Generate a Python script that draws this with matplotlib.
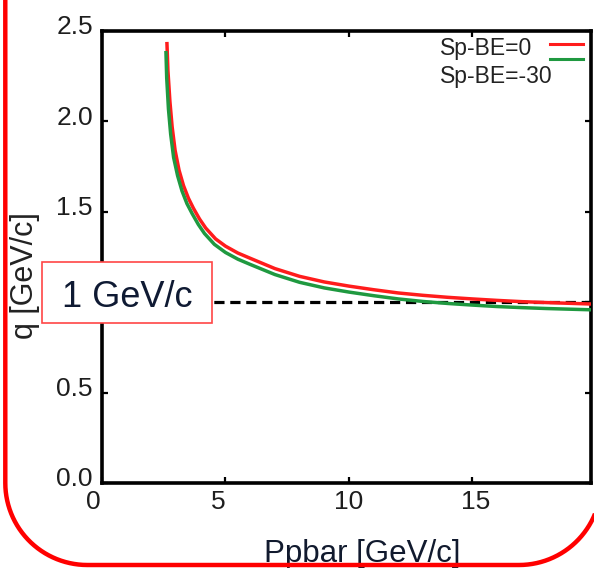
import numpy as np
import matplotlib
matplotlib.use("Agg")
import matplotlib.pyplot as plt
from matplotlib.patches import Rectangle, PathPatch
from matplotlib.path import Path
from matplotlib.lines import Line2D
from matplotlib.transforms import ScaledTranslation

# ---------------- data ----------------
x_red = [2.63, 2.67, 2.75, 2.84, 2.96, 3.12, 3.30, 3.50, 3.70, 3.95, 4.20, 4.60,
         5.00, 5.50, 6.00, 7.00, 8.00, 9.00, 10.0, 11.0, 12.0, 13.0, 14.0, 15.0,
         16.0, 17.0, 18.0, 19.8]
y_red = [2.43, 2.28, 2.11, 1.97, 1.84, 1.73, 1.645, 1.575, 1.52, 1.46, 1.41, 1.35,
         1.31, 1.272, 1.243, 1.186, 1.143, 1.112, 1.089, 1.069, 1.051, 1.038, 1.027, 1.018,
         1.010, 1.003, 0.998, 0.99]
x_green = [2.59, 2.62, 2.69, 2.78, 2.90, 3.06, 3.24, 3.44, 3.65, 3.90, 4.15, 4.55,
           5.00, 5.50, 6.00, 7.00, 8.00, 9.00, 10.0, 11.0, 12.0, 13.0, 14.0, 15.0,
           16.0, 17.0, 18.0, 19.8]
y_green = [2.38, 2.24, 2.07, 1.93, 1.80, 1.70, 1.615, 1.545, 1.49, 1.43, 1.38, 1.32,
           1.275, 1.238, 1.209, 1.153, 1.110, 1.079, 1.056, 1.036, 1.018, 1.004, 0.993, 0.984,
           0.976, 0.970, 0.965, 0.958]
series_labels = ["Sp-BE=0", "Sp-BE=-30"]
ref_level = 1.0
ref_label = "1 GeV/c"
x_ticks = [0, 5, 10, 15]
x_tick_labels = ["0", "5", "10", "15"]
y_ticks = [0.0, 0.5, 1.0, 1.5, 2.0, 2.5]
y_tick_labels = ["0.0", "0.5", "", "1.5", "2.0", "2.5"]   # "1.0" is hidden by the box
x_title = "Ppbar [GeV/c]"
y_title = "q [GeV/c]"

# ---------------- figure ----------------
plt.rcParams["font.family"] = ["Liberation Sans", "DejaVu Sans"]
W, H = 594, 568
fig = plt.figure(figsize=(W / 100, H / 100), dpi=100)
fig.patch.set_facecolor("white")

def fx(px):
    return px / W

def fy(py):
    return 1 - py / H

ax = fig.add_axes([fx(102), fy(483), (591 - 102) / W, (483 - 31) / H])

RED = "#ff1c1c"
GREEN = "#1f9940"

ax.axhline(ref_level, color="black", lw=2.3, dashes=(3.2, 1.8), zorder=2)
ax.plot(x_red, y_red, color=RED, lw=2.5, zorder=3)
ax.plot(x_green, y_green, color=GREEN, lw=2.5, zorder=3)

ax.set_xlim(0, 19.8)
ax.set_ylim(0, 2.5)
ax.set_xticks(x_ticks)
ax.set_xticklabels(x_tick_labels)
ax.set_yticks(y_ticks)
ax.set_yticklabels(y_tick_labels)
ax.tick_params(direction="in", length=4, width=1.6, top=True, right=True,
               labelsize=19, labelcolor="#1e1e1e")
ax.tick_params(axis="x", pad=5)
ax.tick_params(axis="y", pad=6.5)
for s in ax.spines.values():
    s.set_linewidth(2.6)
    s.set_color("black")

# small label nudges like in the reference
for lab in ax.get_yticklabels():
    lab.set_transform(lab.get_transform() + ScaledTranslation(0, 0.06, fig.dpi_scale_trans))
xl = ax.get_xticklabels()
xl[0].set_transform(xl[0].get_transform() + ScaledTranslation(-0.09, 0, fig.dpi_scale_trans))
xl[1].set_transform(xl[1].get_transform() + ScaledTranslation(-0.07, 0, fig.dpi_scale_trans))
xl[3].set_transform(xl[3].get_transform() + ScaledTranslation(0.03, 0, fig.dpi_scale_trans))

# axis titles
fig.text(fx(362), fy(562), x_title, ha="center", va="baseline", fontsize=22.5,
         color="#111a2e")
fig.text(fx(25), fy(276), y_title, ha="center", va="center", rotation=90,
         fontsize=22, color="#222222")

# legend (manual, as in the reference)
fig.text(fx(440), fy(55), series_labels[0], ha="left", va="baseline",
         fontsize=16.5, color="#222222")
fig.text(fx(440), fy(83), series_labels[1], ha="left", va="baseline",
         fontsize=16.5, color="#222222")
fig.add_artist(Line2D([fx(550), fx(583)], [fy(44), fy(44)], transform=fig.transFigure,
                      color=RED, lw=2.2, zorder=5))
fig.add_artist(Line2D([fx(550), fx(583)], [fy(59), fy(59)], transform=fig.transFigure,
                      color=GREEN, lw=2.2, zorder=5))

# annotation box "1 GeV/c"
fig.add_artist(Rectangle((0.42, (H - 323) / 100), 1.70, 0.61,
                         transform=fig.dpi_scale_trans, facecolor="white",
                         edgecolor="#ff4646", lw=1.2, zorder=10))
fig.text(fx(127), fy(307), ref_label, ha="center", va="baseline", fontsize=26,
         color="#0f1a33", zorder=11)

# red rounded frame (open at the top), in inches
L, B, R, T, rad = 0.053, 0.03, 6.01, 6.2, 0.82
t1 = np.linspace(np.pi, 1.5 * np.pi, 30)
t2 = np.linspace(1.5 * np.pi, 2 * np.pi, 30)
verts = [(L, T), (L, B + rad)]
verts += [(L + rad + rad * np.cos(t), B + rad + rad * np.sin(t)) for t in t1]
verts += [(R - rad + rad * np.cos(t), B + rad + rad * np.sin(t)) for t in t2]
verts += [(R, T)]
frame = PathPatch(Path(verts), transform=fig.dpi_scale_trans, facecolor="none",
                  edgecolor="#ff0000", lw=3.2, zorder=12, clip_on=False)
fig.add_artist(frame)

fig.savefig("out.png", dpi=100)
